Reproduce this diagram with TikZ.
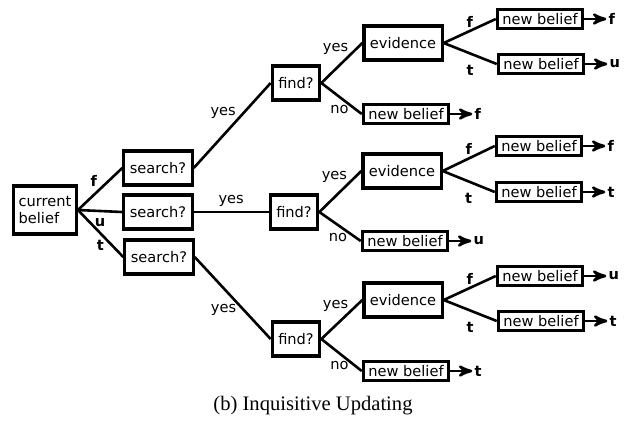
\documentclass[tikz,border=0pt]{standalone}
\usepackage{fontspec}
\setmainfont{DejaVu Sans}
\newfontfamily\capfont{Liberation Serif}
\usetikzlibrary{positioning,arrows}

\begin{document}
\begin{tikzpicture}[x=0.5pt,y=-0.5pt,font=\fontsize{7.3}{8.3}\selectfont,
  qbox/.style={draw,line width=1.6pt,minimum height=17pt,inner xsep=3pt},
  bbox/.style={draw,line width=1.6pt,inner xsep=2.5pt,inner ysep=2pt},
  edge/.style={line width=1.3pt},
  lab/.style={font=\fontsize{7.3}{8.3}\selectfont\bfseries},
  res/.style={lab,inner sep=0pt},
  arr/.style={->,>=stealth',line width=1.3pt,shorten >=1pt}]
  \useasboundingbox (0,0) rectangle (625,430);

  \node[qbox,align=left,minimum height=24pt,inner xsep=2.5pt] (cb) at (45,210) {current\\belief};

  \node[qbox] (s1) at (158,168) {search?};
  \node[qbox] (s2) at (158,212) {search?};
  \node[qbox] (s3) at (159,257) {search?};

  \node[qbox] (f1) at (296,83) {find?};
  \node[qbox] (f2) at (294,212) {find?};
  \node[qbox] (f3) at (296,339) {find?};

  \node[qbox] (e1) at (403,43) {evidence};
  \node[qbox] (e2) at (402,171) {evidence};
  \node[qbox] (e3) at (403,300) {evidence};

  \node[bbox] (n1) at (406,114) {new belief};
  \node[bbox] (n2) at (405,241) {new belief};
  \node[bbox] (n3) at (406,371) {new belief};

  \node[bbox] (e1f) at (540,19) {new belief};
  \node[bbox] (e1t) at (541,64) {new belief};
  \node[bbox] (e2f) at (539,146) {new belief};
  \node[bbox] (e2t) at (539,192) {new belief};
  \node[bbox] (e3f) at (540,276) {new belief};
  \node[bbox] (e3t) at (541,321) {new belief};

  % results
  \node[res,right=12pt of n1] (rn1) {f};
  \node[res,right=12pt of n2] (rn2) {u};
  \node[res,right=12pt of n3] (rn3) {t};
  \node[res,right=12pt of e1f] (re1f) {f};
  \node[res,right=12pt of e1t] (re1t) {u};
  \node[res,right=12pt of e2f] (re2f) {f};
  \node[res,right=12pt of e2t] (re2t) {t};
  \node[res,right=12pt of e3f] (re3f) {u};
  \node[res,right=12pt of e3t] (re3t) {t};

  \draw[edge] (cb.east) -- node[lab,left=2pt,pos=0.7] {f} (s1.west);
  \draw[edge] (cb.east) -- node[lab,below] {u} (s2.west);
  \draw[edge] (cb.east) -- node[lab,left,pos=0.75] {t} (s3.west);

  \draw[edge] (s1.east) -- node[left,pos=0.65] {yes} (f1.west);
  \draw[edge] (s2.east) -- node[above=-1pt] {yes} (f2.west);
  \draw[edge] (s3.east) -- node[left,pos=0.65] {yes} (f3.west);

  \draw[edge] (f1.east) -- node[left,pos=0.85] {yes} (e1.west);
  \draw[edge] (f1.east) -- node[below,pos=0.45] {no} (n1.west);
  \draw[edge] (f2.east) -- node[left,pos=0.85] {yes} (e2.west);
  \draw[edge] (f2.east) -- node[below,pos=0.45] {no} (n2.west);
  \draw[edge] (f3.east) -- node[left,pos=0.85] {yes} (e3.west);
  \draw[edge] (f3.east) -- node[below,pos=0.45] {no} (n3.west);

  \draw[edge] (e1.east) -- node[lab,above=-2pt] {f} (e1f.west);
  \draw[edge] (e1.east) -- node[lab,below=2pt] {t} (e1t.west);
  \draw[edge] (e2.east) -- node[lab,above=-2pt] {f} (e2f.west);
  \draw[edge] (e2.east) -- node[lab,below=2pt] {t} (e2t.west);
  \draw[edge] (e3.east) -- node[lab,above=-2pt] {f} (e3f.west);
  \draw[edge] (e3.east) -- node[lab,below=2pt] {t} (e3t.west);

  \draw[arr] (n1) -- (rn1);
  \draw[arr] (n2) -- (rn2);
  \draw[arr] (n3) -- (rn3);
  \draw[arr] (e1f) -- (re1f);
  \draw[arr] (e1t) -- (re1t);
  \draw[arr] (e2f) -- (re2f);
  \draw[arr] (e2t) -- (re2t);
  \draw[arr] (e3f) -- (re3f);
  \draw[arr] (e3t) -- (re3t);

  \node[font=\capfont\fontsize{10.3}{12}\selectfont] (cap) at (313,406) {(b) Inquisitive Updating};
\end{tikzpicture}
\end{document}
